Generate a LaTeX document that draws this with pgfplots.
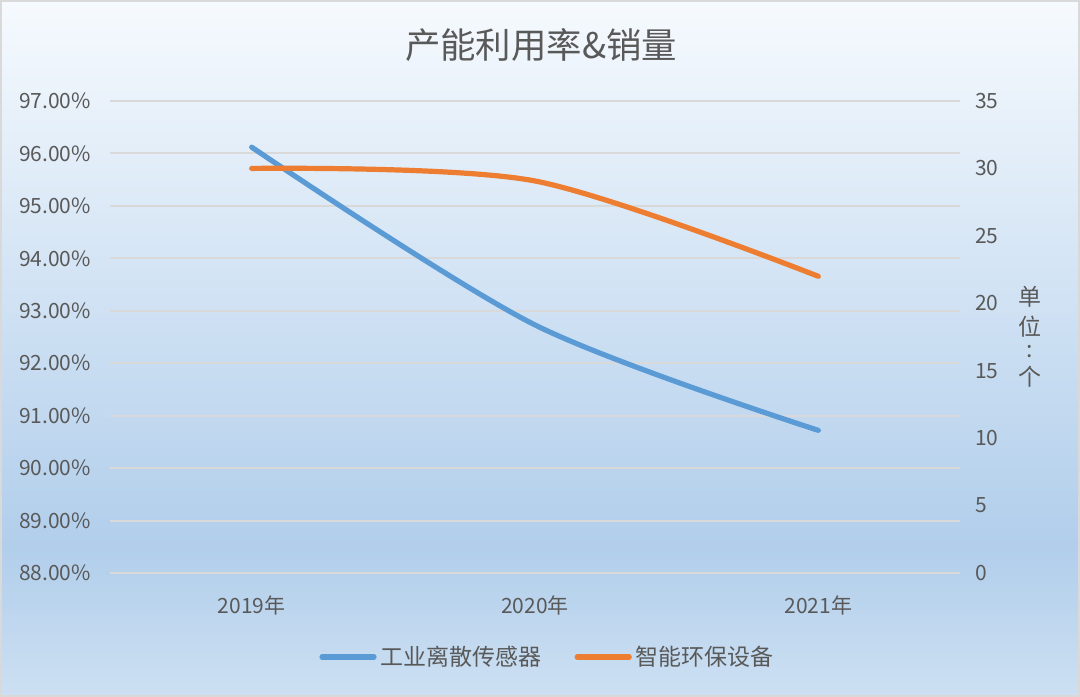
\documentclass[border=0pt]{standalone}
\usepackage{pgfplots}
\pgfplotsset{compat=1.18}
\usepackage{fontspec}
\setmainfont{Noto Sans CJK SC}
\definecolor{txt}{HTML}{595959}
\definecolor{grd}{HTML}{D9D9D9}
\definecolor{sblue}{HTML}{5B9BD5}
\definecolor{sorange}{HTML}{ED7D31}
\definecolor{bgtop}{HTML}{F6FAFE}
\definecolor{bgmid}{HTML}{B1CEEB}
\definecolor{bgbot}{HTML}{CDE0F2}
\begin{document}
\begin{tikzpicture}
\path[use as bounding box] (0,0) rectangle (540bp,348.5bp);
\shade[top color=bgtop, bottom color=bgmid] (0,75bp) rectangle (540bp,348.5bp);
\shade[top color=bgmid, bottom color=bgbot] (0,0) rectangle (540bp,75bp);
\draw[grd, line width=1bp] (0.5bp,0.5bp) rectangle (539.5bp,348bp);
\node[txt, font=\fontsize{17.7bp}{20bp}\selectfont] at (270.5bp,326bp) {产能利用率\&销量};
\begin{axis}[
  at={(55bp,62bp)}, anchor=south west,
  scale only axis, width=425bp, height=236bp,
  xmin=-0.5, xmax=2.5, ymin=88, ymax=97,
  xtick={0,1,2}, xticklabels={2019年,2020年,2021年},
  ytick={88,89,...,97},
  yticklabel={\pgfmathprintnumber[fixed,fixed zerofill,precision=2]{\tick}\%},
  /pgf/number format/assume math mode=true,
  axis line style={draw=none},
  major tick length=0pt,
  ymajorgrids, grid style={grd, line width=1bp},
  ticklabel style={txt, font=\fontsize{10.5bp}{12bp}\selectfont},
  xticklabel style={yshift=-8bp},
  yticklabel style={xshift=-6bp},
  legend style={at={(0.516,-0.178)}, anchor=center, draw=none, fill=none,
    legend columns=2, font=\fontsize{11.5bp}{13bp}\selectfont, text=txt,
    /tikz/every even column/.append style={column sep=14.5bp}},
  legend image code/.code={\draw[#1, line cap=round] (0bp,0bp) -- (26bp,0bp);},
  clip=false,
]
\addplot[sblue, line width=2.6bp, line cap=round, smooth, tension=0.5] coordinates {(0,96.12) (1,92.73) (2,90.72)};
\addlegendentry{工业离散传感器}
\addlegendimage{sorange, line width=2.6bp}
\addlegendentry{智能环保设备}
\end{axis}
\begin{axis}[
  at={(55bp,62bp)}, anchor=south west,
  scale only axis, width=425bp, height=236bp,
  xmin=-0.5, xmax=2.5, ymin=0, ymax=35,
  hide x axis,
  axis y line*=right,
  ytick={0,5,...,35},
  /pgf/number format/assume math mode=true,
  axis line style={draw=none},
  major tick length=0pt,
  ticklabel style={txt, font=\fontsize{10.5bp}{12bp}\selectfont},
  yticklabel style={xshift=4bp, anchor=west},
  clip=false,
]
\addplot[sorange, line width=2.6bp, line cap=round, smooth, tension=0.5] coordinates {(0,30) (1,29.07) (2,22)};
\end{axis}
\node[txt, align=center, font=\fontsize{11.5bp}{15bp}\selectfont, inner sep=0pt] at (515bp,180bp) {单\\位\\[-4bp]:\\[-1bp]个};
\end{tikzpicture}
\end{document}
